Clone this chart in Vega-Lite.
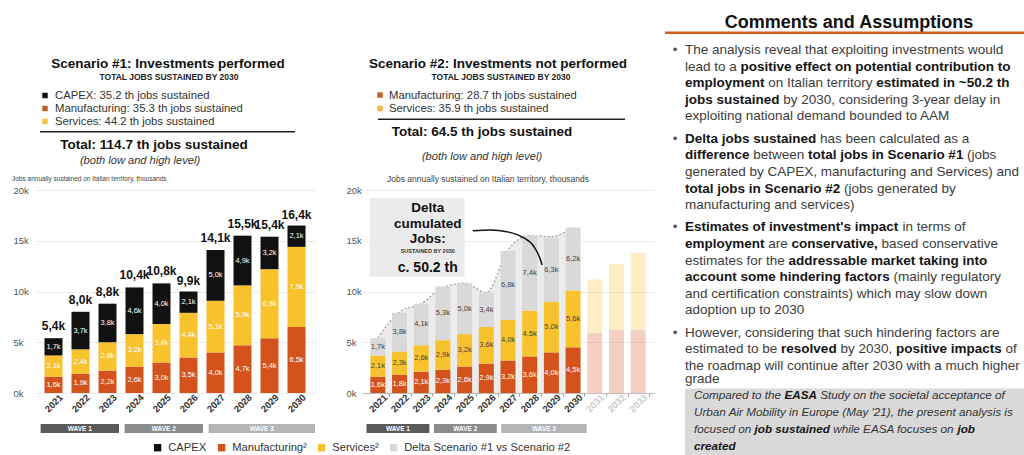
{
"$schema": "https://vega.github.io/schema/vega-lite/v6.json",
"padding": {"left": 12, "top": 0, "right": 0, "bottom": 0},
"background": "white",
"datasets": {
 "s1": [
  {"year":2021,"series":"Manufacturing","k":1.6},{"year":2021,"series":"Services","k":2.1},{"year":2021,"series":"CAPEX","k":1.7},
  {"year":2022,"series":"Manufacturing","k":1.9},{"year":2022,"series":"Services","k":2.4},{"year":2022,"series":"CAPEX","k":3.7},
  {"year":2023,"series":"Manufacturing","k":2.2},{"year":2023,"series":"Services","k":2.8},{"year":2023,"series":"CAPEX","k":3.8},
  {"year":2024,"series":"Manufacturing","k":2.6},{"year":2024,"series":"Services","k":3.2},{"year":2024,"series":"CAPEX","k":4.6},
  {"year":2025,"series":"Manufacturing","k":3.0},{"year":2025,"series":"Services","k":3.8},{"year":2025,"series":"CAPEX","k":4.0},
  {"year":2026,"series":"Manufacturing","k":3.5},{"year":2026,"series":"Services","k":4.4},{"year":2026,"series":"CAPEX","k":2.1},
  {"year":2027,"series":"Manufacturing","k":4.0},{"year":2027,"series":"Services","k":5.1},{"year":2027,"series":"CAPEX","k":5.0},
  {"year":2028,"series":"Manufacturing","k":4.7},{"year":2028,"series":"Services","k":5.9},{"year":2028,"series":"CAPEX","k":4.9},
  {"year":2029,"series":"Manufacturing","k":5.4},{"year":2029,"series":"Services","k":6.8},{"year":2029,"series":"CAPEX","k":3.2},
  {"year":2030,"series":"Manufacturing","k":6.5},{"year":2030,"series":"Services","k":7.9},{"year":2030,"series":"CAPEX","k":2.1}
 ],
 "s2": [
  {"year":2021,"series":"Manufacturing","k":1.6},{"year":2021,"series":"Services","k":2.1},{"year":2021,"series":"Delta","k":1.7},
  {"year":2022,"series":"Manufacturing","k":1.8},{"year":2022,"series":"Services","k":2.3},{"year":2022,"series":"Delta","k":3.8},
  {"year":2023,"series":"Manufacturing","k":2.1},{"year":2023,"series":"Services","k":2.6},{"year":2023,"series":"Delta","k":4.1},
  {"year":2024,"series":"Manufacturing","k":2.3},{"year":2024,"series":"Services","k":2.9},{"year":2024,"series":"Delta","k":5.3},
  {"year":2025,"series":"Manufacturing","k":2.6},{"year":2025,"series":"Services","k":3.2},{"year":2025,"series":"Delta","k":5.0},
  {"year":2026,"series":"Manufacturing","k":2.9},{"year":2026,"series":"Services","k":3.6},{"year":2026,"series":"Delta","k":3.4},
  {"year":2027,"series":"Manufacturing","k":3.2},{"year":2027,"series":"Services","k":4.0},{"year":2027,"series":"Delta","k":6.8},
  {"year":2028,"series":"Manufacturing","k":3.6},{"year":2028,"series":"Services","k":4.5},{"year":2028,"series":"Delta","k":7.4},
  {"year":2029,"series":"Manufacturing","k":4.0},{"year":2029,"series":"Services","k":5.0},{"year":2029,"series":"Delta","k":6.3},
  {"year":2030,"series":"Manufacturing","k":4.5},{"year":2030,"series":"Services","k":5.6},{"year":2030,"series":"Delta","k":6.2},
  {"year":2031,"series":"Manufacturing","k":5.9},{"year":2031,"series":"Services","k":5.3},
  {"year":2032,"series":"Manufacturing","k":6.2},{"year":2032,"series":"Services","k":6.5},
  {"year":2033,"series":"Manufacturing","k":6.2},{"year":2033,"series":"Services","k":7.6}
 ],
 "tot1": [
  {"year":2021,"total":5.4},{"year":2022,"total":8.0},{"year":2023,"total":8.8},{"year":2024,"total":10.4},{"year":2025,"total":10.8},
  {"year":2026,"total":9.9},{"year":2027,"total":14.1},{"year":2028,"total":15.5},{"year":2029,"total":15.4},{"year":2030,"total":16.4}
 ],
 "waves": [
  {"wave":"WAVE 1","start":2021,"end":2023},{"wave":"WAVE 2","start":2024,"end":2026},{"wave":"WAVE 3","start":2027,"end":2030}
 ],
 "curve": [
  {"x":2025.38,"k":15.99},{"x":2026.2,"k":16.06},{"x":2026.94,"k":15.89},{"x":2027.68,"k":15.34},{"x":2028.2,"k":14.41},{"x":2028.5,"k":13.1},{"x":2028.57,"k":12.61}
 ]
},
"concat": [
  {"width":280,"height":159,"data":{"values":[{}]},"layer":[
   {"mark":{"type":"text","text":"Scenario #1: Investments performed","x":133,"y":68,"align":"center","baseline":"alphabetic","fontSize":13.5,"fontWeight":"bold","color":"#111"}},
   {"mark":{"type":"text","text":"TOTAL JOBS SUSTAINED BY 2030","x":134,"y":80,"align":"center","baseline":"alphabetic","fontSize":8.5,"fontWeight":"bold","color":"#222"}},
   {"mark":{"type":"square","x":10,"y":95.5,"size":30,"color":"#111","opacity":1}},
   {"mark":{"type":"square","x":10,"y":108.5,"size":30,"color":"#b8632d","opacity":1}},
   {"mark":{"type":"square","x":10,"y":121.5,"size":30,"color":"#f2c744","opacity":1}},
   {"mark":{"type":"text","text":"CAPEX: 35.2 th jobs sustained","x":20,"y":99,"align":"left","baseline":"alphabetic","fontSize":11.3,"color":"#333"}},
   {"mark":{"type":"text","text":"Manufacturing: 35.3 th jobs sustained","x":20,"y":112,"align":"left","baseline":"alphabetic","fontSize":11.3,"color":"#333"}},
   {"mark":{"type":"text","text":"Services: 44.2 th jobs sustained","x":20,"y":125,"align":"left","baseline":"alphabetic","fontSize":11.3,"color":"#333"}},
   {"mark":{"type":"rect","x":5,"x2":260,"y":131,"y2":132.5,"color":"#222"}},
   {"mark":{"type":"text","text":"Total: 114.7 th jobs sustained","x":119,"y":149,"align":"center","baseline":"alphabetic","fontSize":13.5,"fontWeight":"bold","color":"#111"}},
   {"mark":{"type":"text","text":"(both low and high level)","x":105,"y":164,"align":"center","baseline":"alphabetic","fontSize":11.1,"fontStyle":"italic","color":"#333"}},
   {"mark":{"type":"text","text":"Jobs annually sustained on Italian territory, thousands","x":-23,"y":181,"align":"left","baseline":"alphabetic","fontSize":6.5,"color":"#444"}}
  ]},
  {"width":292,"height":159,"data":{"values":[{}]},"layer":[
   {"mark":{"type":"text","text":"Scenario #2: Investments not performed","x":136,"y":68,"align":"center","baseline":"alphabetic","fontSize":13.5,"fontWeight":"bold","color":"#111"}},
   {"mark":{"type":"text","text":"TOTAL JOBS SUSTAINED BY 2030","x":139,"y":80,"align":"center","baseline":"alphabetic","fontSize":8.5,"fontWeight":"bold","color":"#222"}},
   {"mark":{"type":"square","x":18,"y":95,"size":30,"color":"#c9612a","opacity":1}},
   {"mark":{"type":"square","x":18,"y":108.5,"size":30,"color":"#f4b93e","opacity":1}},
   {"mark":{"type":"text","text":"Manufacturing: 28.7 th jobs sustained","x":27,"y":98.5,"align":"left","baseline":"alphabetic","fontSize":11.3,"color":"#333"}},
   {"mark":{"type":"text","text":"Services: 35.9 th jobs sustained","x":27,"y":112,"align":"left","baseline":"alphabetic","fontSize":11.3,"color":"#333"}},
   {"mark":{"type":"rect","x":16,"x2":263,"y":118.5,"y2":120,"color":"#222"}},
   {"mark":{"type":"text","text":"Total: 64.5 th jobs sustained","x":120,"y":136,"align":"center","baseline":"alphabetic","fontSize":13.5,"fontWeight":"bold","color":"#111"}},
   {"mark":{"type":"text","text":"(both low and high level)","x":120,"y":160,"align":"center","baseline":"alphabetic","fontSize":11.1,"fontStyle":"italic","color":"#333"}},
   {"mark":{"type":"text","text":"Jobs annually sustained on Italian territory, thousands","x":126,"y":182,"align":"center","baseline":"alphabetic","fontSize":8.5,"color":"#444"}}
  ]},
  {"width":323,"height":159,"data":{"values":[{}]},"layer":[
   {"mark":{"type":"text","text":"Comments and Assumptions","x":148,"y":27.5,"align":"center","baseline":"alphabetic","fontSize":18,"fontWeight":"bold","color":"#111"}},
   {"mark":{"type":"rect","x":-36,"x2":323,"y":31.5,"y2":34,"color":"#d4601f"}},
   {"mark":{"type":"text","text":"•","x":-26,"y":54,"align":"center","baseline":"alphabetic","fontSize":13.5,"color":"#555"}},
   {"mark":{"type":"text","text":"•","x":-26,"y":142.7,"align":"center","baseline":"alphabetic","fontSize":13.5,"color":"#555"}},
   {"mark":{"type":"text","text":"•","x":-26,"y":231.4,"align":"center","baseline":"alphabetic","fontSize":13.5,"color":"#555"}},
   {"mark":{"type":"text","text":"•","x":-26,"y":336.7,"align":"center","baseline":"alphabetic","fontSize":13.5,"color":"#555"}},
   {"mark":{"type":"text","style":"cr","text":"The analysis reveal that exploiting investments would","x":-16,"y":54,"color":"#3c3c3c"}},
   {"mark":{"type":"text","style":"cr","text":"lead to a","x":-16,"y":70.6,"color":"#3c3c3c"}},
   {"mark":{"type":"text","style":"cb","text":"positive effect on potential contribution to","x":39.5,"y":70.6,"color":"#151515"}},
   {"mark":{"type":"text","style":"cb","text":"employment","x":-16,"y":87.2,"color":"#151515"}},
   {"mark":{"type":"text","style":"cr","text":"on Italian territory","x":67.3,"y":87.2,"color":"#3c3c3c"}},
   {"mark":{"type":"text","style":"cb","text":"estimated in ~50.2 th","x":175.3,"y":87.2,"color":"#151515"}},
   {"mark":{"type":"text","style":"cb","text":"jobs sustained","x":-16,"y":103.8,"color":"#151515"}},
   {"mark":{"type":"text","style":"cr","text":"by 2030, considering 3-year delay in","x":82.3,"y":103.8,"color":"#3c3c3c"}},
   {"mark":{"type":"text","style":"cr","text":"exploiting national demand bounded to AAM","x":-16,"y":120.4,"color":"#3c3c3c"}},
   {"mark":{"type":"text","style":"cb","text":"Delta jobs sustained","x":-16,"y":142.7,"color":"#151515"}},
   {"mark":{"type":"text","style":"cr","text":"has been calculated as a","x":119.0,"y":142.7,"color":"#3c3c3c"}},
   {"mark":{"type":"text","style":"cb","text":"difference","x":-16,"y":159.3,"color":"#151515"}},
   {"mark":{"type":"text","style":"cr","text":"between","x":52.3,"y":159.3,"color":"#3c3c3c"}},
   {"mark":{"type":"text","style":"cb","text":"total jobs in Scenario #1","x":107.1,"y":159.3,"color":"#151515"}},
   {"mark":{"type":"text","style":"cr","text":"(jobs","x":266.1,"y":159.3,"color":"#3c3c3c"}},
   {"mark":{"type":"text","style":"cr","text":"generated by CAPEX, manufacturing and Services) and","x":-16,"y":175.9,"color":"#3c3c3c"}},
   {"mark":{"type":"text","style":"cb","text":"total jobs in Scenario #2","x":-16,"y":192.5,"color":"#151515"}},
   {"mark":{"type":"text","style":"cr","text":"(jobs generated by","x":143.0,"y":192.5,"color":"#3c3c3c"}},
   {"mark":{"type":"text","style":"cr","text":"manufacturing and services)","x":-16,"y":209.1,"color":"#3c3c3c"}},
   {"mark":{"type":"text","style":"cb","text":"Estimates of investment's impact","x":-16,"y":231.4,"color":"#151515"}},
   {"mark":{"type":"text","style":"cr","text":"in terms of","x":201.6,"y":231.4,"color":"#3c3c3c"}},
   {"mark":{"type":"text","style":"cb","text":"employment","x":-16,"y":248,"color":"#151515"}},
   {"mark":{"type":"text","style":"cr","text":"are","x":67.3,"y":248,"color":"#3c3c3c"}},
   {"mark":{"type":"text","style":"cb","text":"conservative,","x":90.5,"y":248,"color":"#151515"}},
   {"mark":{"type":"text","style":"cr","text":"based conservative","x":180.6,"y":248,"color":"#3c3c3c"}},
   {"mark":{"type":"text","style":"cr","text":"estimates for the","x":-16,"y":264.6,"color":"#3c3c3c"}},
   {"mark":{"type":"text","style":"cb","text":"addressable market taking into","x":87.5,"y":264.6,"color":"#151515"}},
   {"mark":{"type":"text","style":"cb","text":"account some hindering factors","x":-16,"y":281.2,"color":"#151515"}},
   {"mark":{"type":"text","style":"cr","text":"(mainly regulatory","x":192.6,"y":281.2,"color":"#3c3c3c"}},
   {"mark":{"type":"text","style":"cr","text":"and certification constraints) which may slow down","x":-16,"y":297.8,"color":"#3c3c3c"}},
   {"mark":{"type":"text","style":"cr","text":"adoption up to 2030","x":-16,"y":314.4,"color":"#3c3c3c"}},
   {"mark":{"type":"text","style":"cr","text":"However, considering that such hindering factors are","x":-16,"y":336.7,"color":"#3c3c3c"}},
   {"mark":{"type":"text","style":"cr","text":"estimated to be","x":-16,"y":353.3,"color":"#3c3c3c"}},
   {"mark":{"type":"text","style":"cb","text":"resolved","x":80.1,"y":353.3,"color":"#151515"}},
   {"mark":{"type":"text","style":"cr","text":"by 2030,","x":139.4,"y":353.3,"color":"#3c3c3c"}},
   {"mark":{"type":"text","style":"cb","text":"positive impacts","x":194.9,"y":353.3,"color":"#151515"}},
   {"mark":{"type":"text","style":"cr","text":"of","x":304.5,"y":353.3,"color":"#3c3c3c"}},
   {"mark":{"type":"text","style":"cr","text":"the roadmap will continue after 2030 with a much higher","x":-16,"y":369.9,"color":"#3c3c3c"}},
   {"mark":{"type":"text","style":"cr","text":"grade","x":-16,"y":383,"color":"#3c3c3c"}},
   {"mark":{"type":"rect","x":-16,"x2":323,"y":388.5,"y2":455,"color":"#d9d9d9"}},
   {"mark":{"type":"text","style":"br","text":"Compared to the","x":-7,"y":399,"color":"#333"}},
   {"mark":{"type":"text","style":"bb","text":"EASA","x":83.4,"y":399,"color":"#151515"}},
   {"mark":{"type":"text","style":"br","text":"Study on the societal acceptance of","x":119.2,"y":399,"color":"#333"}},
   {"mark":{"type":"text","style":"br","text":"Urban Air Mobility in Europe (May '21), the present analysis is","x":-7,"y":416,"color":"#333"}},
   {"mark":{"type":"text","style":"br","text":"focused on","x":-7,"y":433,"color":"#333"}},
   {"mark":{"type":"text","style":"bb","text":"job sustained","x":53.5,"y":433,"color":"#151515"}},
   {"mark":{"type":"text","style":"br","text":"while EASA focuses on","x":132.2,"y":433,"color":"#333"}},
   {"mark":{"type":"text","style":"bb","text":"job","x":256.4,"y":433,"color":"#151515"}},
   {"mark":{"type":"text","style":"bb","text":"created","x":-7,"y":450,"color":"#151515"}}
  ]},
  {"width":280,"height":203,"layer":[
   {"data":{"name":"s1"},
    "transform":[{"calculate":"indexof(['Manufacturing','Services','CAPEX','Delta'], datum.series)","as":"ord"},{"stack":"k","groupby":["year"],"sort":[{"field":"ord","order":"ascending"}],"as":["y0","y1"]}],
    "mark":{"type":"bar","width":18},
    "encoding":{
     "x":{"field":"year","type":"quantitative","title":null,"scale":{"domain":[2020.5,2030.5],"nice":false,"zero":false},
      "axis":{"values":[2021,2022,2023,2024,2025,2026,2027,2028,2029,2030],"tickCount":30,"format":"d","labelAngle":-45,"labelAlign":"center","labelBaseline":"middle","labelPadding":10,"labelFontSize":9.5,"labelFontWeight":"bold","labelColor":"#333","ticks":false,"tickSize":0,"domain":false,"grid":false,"title":null,"labelFlush":false,"labelOverlap":false}},
     "y":{"field":"y0","type":"quantitative","title":null,"scale":{"domain":[0,20],"nice":false},
      "axis":{"values":[0,5,10,15,20],"tickCount":10,"labelExpr":"datum.value + 'k'","labelAlign":"left","labelBaseline":"middle","labelPadding":22,"ticks":false,"tickSize":0,"domain":false,"grid":true,"gridColor":"#ebebeb","labelFontSize":9.5,"labelColor":"#555","title":null,"labelFlush":false}},
     "y2":{"field":"y1"},
     "color":{"field":"series","type":"nominal","scale":{"domain":["CAPEX","Manufacturing","Services","Delta"],"range":["#111111","#d4531c","#f8c22e","#d9d9d9"]},
      "legend":{"orient":"none","legendX":117,"legendY":442,"direction":"horizontal","title":null,"symbolType":"square","symbolSize":55,"symbolStrokeWidth":0,"labelFontSize":11.2,"labelColor":"#333","labelFont":"Liberation Sans","columnPadding":9,"labelOffset":5,"padding":0,"labelLimit":300,"labelExpr":"datum.label == 'Delta' ? 'Delta Scenario #1 vs Scenario #2' : datum.label == 'CAPEX' ? 'CAPEX' : datum.label + '²'"}}
    }},
   {"data":{"name":"s1"},
    "transform":[{"calculate":"indexof(['Manufacturing','Services','CAPEX','Delta'], datum.series)","as":"ord"},{"stack":"k","groupby":["year"],"sort":[{"field":"ord","order":"ascending"}],"as":["y0","y1"]},{"calculate":"(datum.y0+datum.y1)/2","as":"mid"},{"calculate":"replace(format(datum.k, '.1f'), '.', ',') + 'k'","as":"lbl"}],
    "mark":{"type":"text","fontSize":7.5,"color":"#ffffff","align":"center","baseline":"middle"},
    "encoding":{
     "x":{"field":"year","type":"quantitative","title":null,"scale":{"domain":[2020.5,2030.5],"nice":false,"zero":false}},
     "y":{"field":"mid","type":"quantitative","title":null,"scale":{"domain":[0,20],"nice":false}},
     "text":{"field":"lbl"}
    }},
   {"data":{"name":"tot1"},
    "transform":[{"calculate":"replace(format(datum.total, '.1f'), '.', ',') + 'k'","as":"lbl"}],
    "mark":{"type":"text","fontSize":12,"fontWeight":"bold","color":"#111","align":"center","baseline":"alphabetic","dy":-8},
    "encoding":{
     "x":{"field":"year","type":"quantitative","title":null,"scale":{"domain":[2020.5,2030.5],"nice":false,"zero":false}},
     "y":{"field":"total","type":"quantitative","title":null,"scale":{"domain":[0,20],"nice":false}},
     "text":{"field":"lbl"}
    }}
  ]},
  {"width":292,"height":203,"layer":[
   {"data":{"name":"tot1"},
    "mark":{"type":"area","interpolate":"monotone","color":"#ececec"},
    "encoding":{
     "x":{"field":"year","type":"quantitative","title":null,"scale":{"domain":[2020.5,2033.5],"nice":false,"zero":false},
      "axis":{"values":[2021,2022,2023,2024,2025,2026,2027,2028,2029,2030,2031,2032,2033],"tickCount":30,"format":"d","labelAngle":-45,"labelAlign":"center","labelBaseline":"middle","labelPadding":7,"labelFontSize":9.5,"labelFontWeight":"bold","labelColor":{"condition":{"test":"datum.value > 2030","value":"#cccccc"},"value":"#333333"},"ticks":true,"tickSize":3,"tickColor":"#999999","tickOffset":11.23,"labelOffset":-11.23,"domain":true,"domainColor":"#bbbbbb","grid":false,"title":null,"labelFlush":false,"labelOverlap":false}},
     "y":{"field":"total","type":"quantitative","title":null,"scale":{"domain":[0,20],"nice":false},
      "axis":{"values":[0,5,10,15,20],"tickCount":10,"labelExpr":"datum.value + 'k'","labelAlign":"left","labelBaseline":"middle","labelPadding":16,"ticks":false,"tickSize":0,"domain":false,"grid":true,"gridColor":"#ebebeb","labelFontSize":9.5,"labelColor":"#555","title":null,"labelFlush":false}}
    }},
   {"data":{"name":"tot1"},
    "mark":{"type":"line","interpolate":"monotone","color":"#9a9a9a","strokeDash":[2,2],"strokeWidth":1.2},
    "encoding":{
     "x":{"field":"year","type":"quantitative","title":null,"scale":{"domain":[2020.5,2033.5],"nice":false,"zero":false}},
     "y":{"field":"total","type":"quantitative","title":null,"scale":{"domain":[0,20],"nice":false}}
    }},
   {"data":{"values":[{}]},
    "mark":{"type":"rect","color":"#ebebeb"},
    "encoding":{
     "x":{"datum":2020.63,"type":"quantitative","scale":{"domain":[2020.5,2033.5],"nice":false,"zero":false}},
     "x2":{"datum":2025.0},
     "y":{"datum":19.2,"type":"quantitative","scale":{"domain":[0,20],"nice":false}},
     "y2":{"datum":11.45}
    }},
   {"data":{"name":"s2"},
    "transform":[{"calculate":"indexof(['Manufacturing','Services','CAPEX','Delta'], datum.series)","as":"ord"},{"stack":"k","groupby":["year"],"sort":[{"field":"ord","order":"ascending"}],"as":["y0","y1"]}],
    "mark":{"type":"bar","width":15},
    "encoding":{
     "x":{"field":"year","type":"quantitative","title":null,"scale":{"domain":[2020.5,2033.5],"nice":false,"zero":false}},
     "y":{"field":"y0","type":"quantitative","title":null,"scale":{"domain":[0,20],"nice":false}},
     "y2":{"field":"y1"},
     "color":{"field":"series","type":"nominal","scale":{"domain":["CAPEX","Manufacturing","Services","Delta"],"range":["#111111","#d4531c","#f8c22e","#d9d9d9"]},
      "legend":{"orient":"none","legendX":117,"legendY":442,"direction":"horizontal","title":null,"symbolType":"square","symbolSize":55,"symbolStrokeWidth":0,"labelFontSize":11.2,"labelColor":"#333","labelFont":"Liberation Sans","columnPadding":9,"labelOffset":5,"padding":0,"labelLimit":300,"labelExpr":"datum.label == 'Delta' ? 'Delta Scenario #1 vs Scenario #2' : datum.label == 'CAPEX' ? 'CAPEX' : datum.label + '²'"}},
     "opacity":{"condition":{"test":"datum.year > 2030","value":0.27},"value":1}
    }},
   {"data":{"name":"s2"},
    "transform":[{"calculate":"indexof(['Manufacturing','Services','CAPEX','Delta'], datum.series)","as":"ord"},{"stack":"k","groupby":["year"],"sort":[{"field":"ord","order":"ascending"}],"as":["y0","y1"]},{"filter":"datum.year <= 2030"},{"calculate":"(datum.y0+datum.y1)/2","as":"mid"},{"calculate":"replace(format(datum.k, '.1f'), '.', ',') + 'k'","as":"lbl"}],
    "mark":{"type":"text","fontSize":7.5,"align":"center","baseline":"middle"},
    "encoding":{
     "x":{"field":"year","type":"quantitative","title":null,"scale":{"domain":[2020.5,2033.5],"nice":false,"zero":false}},
     "y":{"field":"mid","type":"quantitative","title":null,"scale":{"domain":[0,20],"nice":false}},
     "text":{"field":"lbl"},
     "color":{"condition":{"test":"datum.series == 'Manufacturing'","value":"#ffffff"},"value":"#444444"}
    }},
   {"data":{"values":[{}]},
    "mark":{"type":"text","text":["Delta","cumulated","Jobs:"],"lineHeight":15.5,"fontSize":13.5,"fontWeight":"bold","color":"#111","align":"center","baseline":"alphabetic"},
    "encoding":{"x":{"datum":2023.3,"type":"quantitative","scale":{"domain":[2020.5,2033.5],"nice":false,"zero":false}},"y":{"datum":17.83,"type":"quantitative","scale":{"domain":[0,20],"nice":false}}}},
   {"data":{"values":[{}]},
    "mark":{"type":"text","text":"SUSTAINED BY 2030","fontSize":5.5,"fontWeight":"bold","color":"#333","align":"center","baseline":"alphabetic"},
    "encoding":{"x":{"datum":2023.3,"type":"quantitative","scale":{"domain":[2020.5,2033.5],"nice":false,"zero":false}},"y":{"datum":13.79,"type":"quantitative","scale":{"domain":[0,20],"nice":false}}}},
   {"data":{"values":[{}]},
    "mark":{"type":"text","text":"c. 50.2 th","fontSize":14,"fontWeight":"bold","color":"#111","align":"center","baseline":"alphabetic"},
    "encoding":{"x":{"datum":2023.3,"type":"quantitative","scale":{"domain":[2020.5,2033.5],"nice":false,"zero":false}},"y":{"datum":11.92,"type":"quantitative","scale":{"domain":[0,20],"nice":false}}}},
   {"data":{"name":"curve"},
    "mark":{"type":"line","interpolate":"monotone","color":"#111111","strokeWidth":1.5},
    "encoding":{
     "x":{"field":"x","type":"quantitative","title":null,"scale":{"domain":[2020.5,2033.5],"nice":false,"zero":false}},
     "y":{"field":"k","type":"quantitative","title":null,"scale":{"domain":[0,20],"nice":false}}
    }}
  ]},
  {"width":323,"height":203,"data":{"values":[{}]},"mark":{"type":"text","text":""}},
  {"width":280,"height":9,"data":{"name":"waves"},
   "transform":[{"calculate":"datum.start - 0.3","as":"x0"},{"calculate":"datum.end + 0.5","as":"x1"},{"calculate":"(datum.start + datum.end) / 2 + 0.1","as":"xm"}],
   "layer":[
    {"mark":{"type":"rect"},"encoding":{"x":{"field":"x0","type":"quantitative","scale":{"domain":[2020.5,2030.5],"nice":false,"zero":false},"axis":null},"x2":{"field":"x1"},
      "fill":{"field":"wave","type":"nominal","scale":{"domain":["WAVE 1","WAVE 2","WAVE 3"],"range":["#5a5a5a","#8c8c8c","#b4b4b4"]},"legend":null}}},
    {"mark":{"type":"text","color":"#ffffff","fontSize":6.5,"fontWeight":"bold","align":"center","baseline":"middle"},
     "encoding":{"x":{"field":"xm","type":"quantitative","scale":{"domain":[2020.5,2030.5],"nice":false,"zero":false},"axis":null},"text":{"field":"wave"}}}
   ]},
  {"width":292,"height":9,"data":{"name":"waves"},
   "transform":[{"calculate":"datum.start - 0.3","as":"x0"},{"calculate":"datum.end + 0.5","as":"x1"},{"calculate":"(datum.start + datum.end) / 2 + 0.1","as":"xm"}],
   "layer":[
    {"mark":{"type":"rect"},"encoding":{"x":{"field":"x0","type":"quantitative","scale":{"domain":[2020.5,2033.5],"nice":false,"zero":false},"axis":null},"x2":{"field":"x1"},
      "fill":{"field":"wave","type":"nominal","scale":{"domain":["WAVE 1","WAVE 2","WAVE 3"],"range":["#5a5a5a","#8c8c8c","#b4b4b4"]},"legend":null}}},
    {"mark":{"type":"text","color":"#ffffff","fontSize":6.5,"fontWeight":"bold","align":"center","baseline":"middle"},
     "encoding":{"x":{"field":"xm","type":"quantitative","scale":{"domain":[2020.5,2033.5],"nice":false,"zero":false},"axis":null},"text":{"field":"wave"}}}
   ]},
  {"width":323,"height":9,"data":{"values":[{}]},"mark":{"type":"text","text":""}}
],
"columns": 3,
"spacing": {"row": 31, "column": 47},
"bounds": "flush",
"config": {
 "view": {"stroke": null},
 "font": "Liberation Sans",
 "text": {"font": "Liberation Sans"},
 "axis": {"labelFont": "Liberation Sans", "labelOverlap": false},
 "style": {
  "cr": {"align":"left","baseline":"alphabetic","fontSize":13.5,"font":"Liberation Sans"},
  "cb": {"align":"left","baseline":"alphabetic","fontSize":13.5,"fontWeight":"bold","font":"Liberation Sans"},
  "br": {"align":"left","baseline":"alphabetic","fontSize":11.7,"fontStyle":"italic","font":"Liberation Sans"},
  "bb": {"align":"left","baseline":"alphabetic","fontSize":11.7,"fontStyle":"italic","fontWeight":"bold","font":"Liberation Sans"}
 }
}
}
